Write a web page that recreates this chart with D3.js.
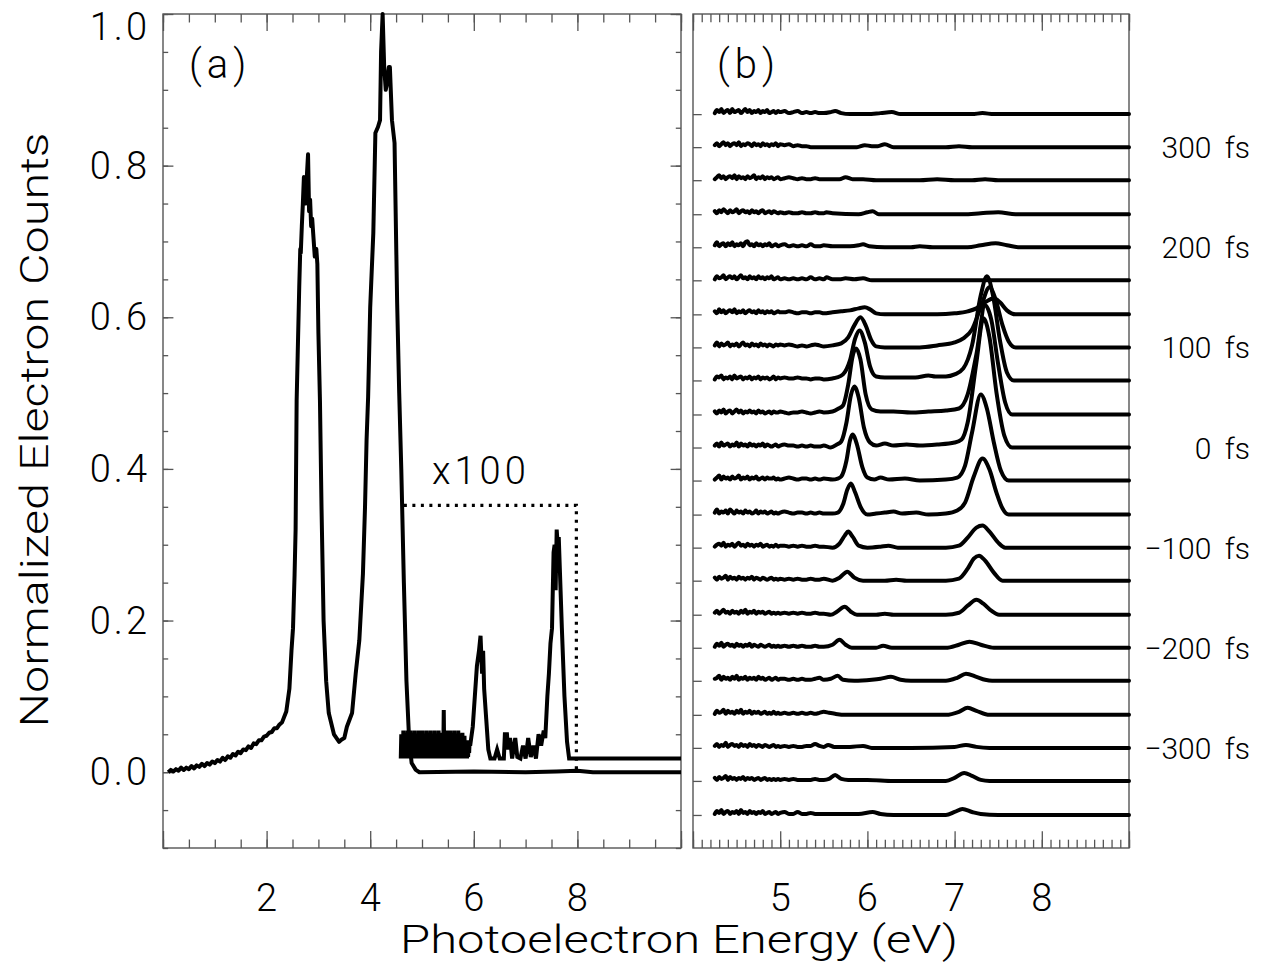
<!DOCTYPE html>
<html><head><meta charset="utf-8">
<script src="https://cdn.jsdelivr.net/npm/d3@7"></script>
<style>
body{margin:0;background:#fff}
text{font-family:Roboto,'DejaVu Sans',sans-serif;font-weight:300;fill:#000}
</style>
</head><body><svg id="c" width="1282" height="971"></svg>
<script>
// ---------------- Panel (a) data ----------------
const xDomainA = [0, 10];
const yDomainA = [-0.1, 1.0];
const xMajorA = [0, 2, 4, 6, 8, 10];
const xLabelA = [2, 4, 6, 8];
const yMajorA = [0, 0.2, 0.4, 0.6, 0.8, 1.0];
const yLabelA = ["0.0", "0.2", "0.4", "0.6", "0.8", "1.0"];

// full spectrum [energy eV, normalized counts]
const spectrum = [[0.1,0.0],[0.15,0.003],[0.2,0.001],[0.25,0.004],[0.3,0.002],[0.35,0.006],[0.4,0.003],[0.45,0.006],[0.5,0.004],[0.55,0.008],[0.6,0.005],[0.65,0.009],[0.7,0.007],[0.75,0.011],[0.8,0.008],[0.85,0.012],[0.9,0.010],[0.95,0.014],[1.0,0.012],[1.05,0.016],[1.1,0.014],[1.15,0.019],[1.2,0.016],[1.25,0.021],[1.3,0.019],[1.35,0.024],[1.4,0.022],[1.45,0.027],[1.5,0.025],[1.55,0.030],[1.6,0.029],[1.65,0.034],[1.7,0.032],[1.75,0.038],[1.8,0.037],[1.85,0.042],[1.9,0.042],[1.95,0.047],[2.0,0.048],[2.05,0.052],[2.1,0.053],[2.15,0.058],[2.2,0.058],[2.25,0.063],[2.3,0.066],[2.38,0.08],[2.44,0.11],[2.48,0.16],[2.51,0.19],[2.54,0.26],[2.56,0.32],[2.58,0.49],[2.6,0.55],[2.63,0.64],[2.65,0.69],[2.66,0.685],[2.68,0.72],[2.7,0.75],[2.72,0.785],[2.74,0.78],[2.76,0.75],[2.78,0.79],[2.8,0.815],[2.82,0.74],[2.84,0.755],[2.86,0.72],[2.88,0.73],[2.9,0.71],[2.93,0.68],[2.96,0.69],[2.98,0.67],[3.0,0.58],[3.03,0.49],[3.06,0.35],[3.1,0.2],[3.15,0.12],[3.2,0.078],[3.3,0.05],[3.4,0.04],[3.45,0.043],[3.5,0.045],[3.55,0.06],[3.65,0.078],[3.72,0.13],[3.79,0.174],[3.86,0.262],[3.9,0.35],[3.93,0.438],[3.96,0.495],[4.0,0.613],[4.06,0.711],[4.1,0.843],[4.15,0.851],[4.19,0.86],[4.21,0.95],[4.24,1.0],[4.27,0.93],[4.3,0.9],[4.33,0.91],[4.36,0.93],[4.38,0.93],[4.42,0.86],[4.47,0.83],[4.52,0.62],[4.56,0.5],[4.6,0.4],[4.65,0.25],[4.7,0.12],[4.75,0.045],[4.8,0.012],[4.88,0.003],[4.95,0.0],[6.0,0.001],[7.0,0.0],[7.6,0.001],[8.0,0.002],[8.3,0.0],[10,0.0]];

// x100 magnified part: dense noisy block sampled every 0.01 eV from 4.59 eV (values in 1e-3 units)
const magNoiseStart = 4.59;
const magNoise = [18,50,18,45,20,55,18,40,22,52,18,48,20,55,18,42,25,50,18,55,20,45,18,52,18,40,22,55,18,48,20,50,18,45,18,55,20,42,18,50,22,55,18,45,20,50,18,40,18,55,20,48,18,52,22,45,18,55,20,40,18,50,18,45,20,55,18,48,22,50,18,42,20,55,18,50,18,45,22,52,18,45,20,82,18,50,20,45,18,55,20,42,18,50,22,55,18,45,18,52,20,40,18,55,20,48,18,45,22,50,18,55,20,42,18,50,18,45,20,52,18,40,22,48,18,35,20,42,18,35,20,38,25,42,35];
const magnified = [[5.95,0.045],[5.98,0.06],[6.02,0.1],[6.06,0.14],[6.1,0.16],[6.13,0.18],[6.16,0.13],[6.18,0.16],[6.2,0.11],[6.24,0.07],[6.28,0.03],[6.32,0.018],[6.4,0.018],[6.45,0.03],[6.5,0.018],[6.58,0.018],[6.6,0.05],[6.64,0.05],[6.66,0.03],[6.7,0.045],[6.74,0.018],[6.8,0.045],[6.84,0.02],[6.9,0.018],[6.95,0.035],[7.0,0.018],[7.05,0.045],[7.1,0.02],[7.15,0.035],[7.2,0.018],[7.25,0.05],[7.3,0.035],[7.35,0.055],[7.38,0.045],[7.42,0.1],[7.45,0.13],[7.48,0.17],[7.51,0.19],[7.54,0.29],[7.56,0.3],[7.58,0.24],[7.6,0.32],[7.62,0.3],[7.64,0.31],[7.66,0.27],[7.7,0.19],[7.75,0.1],[7.8,0.04],[7.84,0.018],[10,0.018]];

const magnifyBox = [[4.65,0.352],[7.98,0.352],[7.98,0.0]];

// ---------------- Panel (b) data ----------------
const xDomainB = [4, 9];
const xMajorB = [4, 5, 6, 7, 8, 9];
const xLabelB = [5, 6, 7, 8];
const delayDomain = [-400, 433];
const delays = [333,300,267,233,200,167,133,100,67,33,0,-33,-67,-100,-133,-167,-200,-233,-267,-300,-333,-367];
const delayLabels = [300, 200, 100, 0, -100, -200, -300];

// low-energy noisy region: 4.25-5.00 eV every 0.025, then 5.05-5.50 every 0.05
const noiseE = d3.range(31).map(k => +(4.25 + 0.025 * k).toFixed(3))
  .concat(d3.range(10).map(k => +(5.05 + 0.05 * k).toFixed(2)));
const noise = [
[1,4,2,5,1,3,4,1,5,2,3,4,1,3,5,2,4,1,3,2,4,1,3,2,4,1,2,3,1,3,2,3,1,2,3,1,2,1,2,1,1],
[2,4,1,3,5,2,4,1,3,4,2,5,1,3,2,4,3,1,4,2,3,1,4,2,3,1,3,2,4,1,3,2,3,1,2,1,1,0,0,0,0],
[1,3,5,2,4,1,3,4,2,5,1,4,2,3,1,4,2,3,5,1,3,2,4,1,3,2,3,1,2,3,1,2,3,2,1,2,1,1,2,1,1],
[3,1,4,2,5,3,1,4,2,3,5,1,3,4,2,3,1,4,2,3,1,3,4,1,2,3,1,3,2,1,2,1,2,1,1,2,1,1,2,1,1],
[2,5,1,3,4,1,4,2,5,1,3,2,4,1,5,6,2,3,1,4,2,3,1,3,2,4,1,2,3,1,2,3,1,2,1,2,1,3,1,1,2],
[1,4,2,3,5,1,3,4,2,4,1,3,5,2,3,1,4,2,3,1,4,2,3,1,3,2,4,1,2,3,1,2,1,2,1,2,1,3,1,2,1],
[3,1,5,2,4,1,3,4,2,5,1,3,2,4,1,3,4,2,3,1,4,2,3,1,3,2,3,1,2,3,2,2,3,2,1,2,2,1,2,2,1],
[2,5,1,4,2,3,5,1,3,2,4,1,3,5,2,3,1,4,2,3,1,4,2,3,1,3,2,1,3,2,3,2,3,2,1,2,1,2,3,2,1],
[1,4,3,5,1,3,2,4,1,5,2,3,4,1,3,2,4,1,3,2,4,1,3,2,3,1,2,4,1,3,2,3,2,2,3,2,2,1,2,2,1],
[3,1,4,2,5,1,3,4,1,3,5,2,4,1,3,2,4,2,3,1,4,2,3,1,2,3,1,3,2,2,3,2,1,2,2,3,2,1,2,3,2],
[2,4,1,5,2,3,4,1,3,2,5,1,4,2,3,1,4,2,3,1,3,2,4,1,3,2,1,2,3,1,2,3,2,2,1,2,1,2,1,1,2],
[1,3,5,1,4,2,3,1,4,2,3,5,1,3,2,4,1,3,2,4,1,2,3,1,3,2,2,3,1,2,1,2,3,2,1,2,2,1,2,1,2],
[2,5,1,3,2,4,1,5,3,1,4,2,3,1,4,2,3,1,2,4,1,3,2,3,1,2,3,1,2,1,2,3,2,1,2,2,1,2,1,2,1],
[1,3,4,2,5,1,3,2,4,1,3,5,2,3,1,4,2,3,1,3,2,4,1,2,3,1,2,1,3,1,2,2,1,2,1,2,1,1,2,1,1],
[3,1,4,2,3,5,1,4,2,3,1,4,2,3,1,3,2,4,1,3,2,1,3,2,1,2,3,1,2,1,2,1,2,1,2,1,1,2,1,1,2],
[2,4,1,3,5,2,3,1,4,2,3,1,4,2,5,1,3,2,4,1,3,2,3,1,2,3,1,2,1,2,1,2,1,2,1,2,1,1,2,1,1],
[1,4,2,5,1,3,4,2,3,1,4,2,3,1,3,2,4,1,3,2,1,3,2,1,2,3,1,2,1,2,1,2,1,2,1,2,1,1,2,1,1],
[2,3,5,1,4,2,3,1,4,2,5,1,3,2,4,1,3,2,3,1,4,2,3,1,2,3,1,2,3,1,2,2,1,2,1,2,1,1,2,3,1],
[1,4,2,3,5,1,4,2,3,1,4,2,5,1,3,2,4,1,3,2,3,1,2,3,1,2,1,3,1,2,1,2,1,2,1,2,1,2,1,2,3],
[2,4,1,3,2,5,1,3,4,2,3,1,4,2,3,1,4,2,3,1,3,2,1,3,2,1,2,3,1,2,1,2,1,2,1,1,2,2,4,2,1],
[3,1,4,2,3,5,1,4,2,3,1,3,2,4,1,3,2,3,1,2,3,1,2,3,1,2,1,2,1,2,1,2,1,2,1,1,1,1,2,1,1],
[1,4,2,5,1,3,4,1,3,2,4,1,5,2,3,1,4,2,3,1,3,2,4,1,2,3,1,2,3,1,2,3,1,1,3,1,1,2,1,1,1]
];
// features above 5.5 eV: [energy eV, counts (arb.)]
const features = [
[[5.58,2],[5.63,3],[5.7,1],[5.8,0],[6.0,0],[6.15,1],[6.28,2],[6.38,0],[7.2,0],[7.32,1],[7.45,0],[9,0]],
[[5.7,0],[5.88,0],[5.97,2],[6.05,1],[6.12,1],[6.2,3],[6.3,0],[6.9,0],[7.05,1],[7.2,0],[9,0]],
[[5.6,1],[5.68,1],[5.75,3],[5.83,1],[5.95,1],[6.1,0],[6.6,0],[6.8,1],[7.0,0],[7.2,0],[7.35,1],[7.5,0],[9,0]],
[[5.53,2],[5.6,1],[5.9,0],[6.0,2],[6.06,3],[6.13,0],[7.1,0],[7.3,1],[7.5,2],[7.7,0],[9,0]],
[[5.6,1],[5.8,1],[5.9,2],[5.95,3],[6.02,1],[6.2,0],[6.5,0],[6.6,1],[6.75,0],[7.15,0],[7.3,2],[7.47,4],[7.6,2],[7.75,0],[9,0]],
[[5.53,3],[5.6,1],[5.68,1],[5.75,2],[5.85,1],[5.95,2],[6.05,0],[9,0]],
[[5.6,2],[5.7,3],[5.8,4],[5.9,6],[5.97,7],[6.03,5],[6.1,1],[6.2,0],[6.8,0],[7.0,1],[7.15,3],[7.25,6],[7.35,12],[7.45,16],[7.52,12],[7.6,4],[7.7,0],[9,0]],
[[5.6,2],[5.7,4],[5.78,10],[5.85,22],[5.92,30],[5.98,22],[6.04,8],[6.1,1],[6.2,0],[6.6,0],[6.8,2],[7.0,5],[7.1,9],[7.2,18],[7.3,40],[7.4,60],[7.47,48],[7.55,22],[7.62,6],[7.7,0],[9,0]],
[[5.6,2],[5.65,3],[5.72,6],[5.8,20],[5.86,42],[5.91,50],[5.97,38],[6.03,14],[6.1,4],[6.2,3],[6.4,3],[6.55,3],[6.7,5],[6.78,4],[6.9,4],[7.0,6],[7.1,12],[7.2,35],[7.3,85],[7.37,104],[7.44,85],[7.52,40],[7.6,8],[7.68,0],[9,0]],
[[5.6,3],[5.67,6],[5.72,9],[5.78,30],[5.83,58],[5.87,66],[5.92,55],[5.98,20],[6.05,5],[6.15,3],[6.3,3],[6.5,2],[6.7,3],[6.9,4],[7.05,6],[7.15,20],[7.25,60],[7.35,109],[7.42,95],[7.5,50],[7.58,12],[7.66,0],[9,0]],
[[5.58,0],[5.65,3],[5.7,6],[5.76,25],[5.81,52],[5.85,61],[5.9,50],[5.96,20],[6.03,5],[6.1,2],[6.2,4],[6.3,2],[6.45,3],[6.6,2],[6.8,3],[7.0,5],[7.08,8],[7.15,25],[7.25,85],[7.33,129],[7.4,110],[7.48,55],[7.57,12],[7.66,0],[9,0]],
[[5.6,1],[5.66,2],[5.7,4],[5.76,20],[5.8,40],[5.83,46],[5.88,36],[5.94,14],[6.0,3],[6.08,1],[6.15,3],[6.25,1],[6.43,2],[6.6,0],[6.9,1],[7.03,3],[7.12,15],[7.2,48],[7.3,86],[7.37,72],[7.45,38],[7.53,10],[7.62,0],[9,0]],
[[5.6,1],[5.66,2],[5.72,10],[5.77,25],[5.81,31],[5.86,22],[5.92,8],[6.0,0],[6.1,1],[6.2,2],[6.3,3],[6.4,1],[6.56,2],[6.7,0],[6.9,1],[7.03,4],[7.12,12],[7.22,38],[7.32,56],[7.4,45],[7.48,22],[7.55,6],[7.62,0],[9,0]],
[[5.6,0],[5.68,4],[5.74,12],[5.78,16],[5.83,11],[5.9,2],[6.0,0],[6.15,1],[6.24,2],[6.35,0],[6.9,0],[7.05,2],[7.15,10],[7.25,20],[7.32,22],[7.4,16],[7.5,5],[7.58,0],[9,0]],
[[5.6,0],[5.68,3],[5.77,9],[5.85,3],[5.95,0],[6.2,0],[6.33,1],[6.45,0],[6.9,0],[7.05,2],[7.15,12],[7.22,22],[7.28,25],[7.35,20],[7.45,8],[7.55,0],[9,0]],
[[5.58,0],[5.65,3],[5.74,8],[5.81,3],[5.88,0],[6.1,0],[6.2,1],[6.3,0],[6.9,0],[7.05,2],[7.15,9],[7.25,15],[7.33,11],[7.42,4],[7.51,0],[9,0]],
[[5.6,3],[5.68,8],[5.75,3],[5.82,0],[6.1,0],[6.18,2],[6.28,0],[6.9,0],[7.05,3],[7.17,6],[7.3,3],[7.45,0],[9,0]],
[[5.58,2],[5.66,5],[5.72,1],[5.85,0],[6.05,1],[6.15,2],[6.27,4],[6.38,1],[6.5,0],[6.9,0],[7.03,3],[7.13,7],[7.25,4],[7.35,1],[7.43,0],[9,0]],
[[5.56,2],[5.63,1],[5.75,0],[6.3,0],[6.9,0],[7.05,3],[7.15,7],[7.25,4],[7.4,0],[9,0]],
[[5.55,3],[5.62,1],[5.8,1],[5.95,2],[6.05,0],[6.3,0],[6.5,0],[7.0,1],[7.13,3],[7.25,1],[7.4,0],[9,0]],
[[5.56,2],[5.63,6],[5.7,2],[5.78,1],[6.0,1],[6.3,0],[6.9,0],[7.0,3],[7.11,8],[7.2,5],[7.3,1],[7.4,0],[9,0]],
[[5.7,1],[5.9,1],[6.06,3],[6.15,1],[6.3,0],[6.9,0],[7.0,3],[7.09,6],[7.2,3],[7.3,1],[7.5,0],[9,0]]
];
const GAIN = 1.0; // fs of vertical offset per count unit

// ---------------- drawing ----------------
const svg = d3.select('#c');
svg.append('rect').attr('width',1282).attr('height',971).attr('fill','#fff');
const PA = {l:163, r:681, t:14, b:848};
const PB = {l:693, r:1129, t:14, b:848};
const xa = d3.scaleLinear().domain(xDomainA).range([PA.l, PA.r]);
const ya = d3.scaleLinear().domain(yDomainA).range([PA.b, PA.t]);
const xb = d3.scaleLinear().domain(xDomainB).range([PB.l, PB.r]);
const yb = d3.scaleLinear().domain(delayDomain).range([PB.b, PB.t]);
const AXC = '#555';

function styleAxis(g){ g.select('.domain').remove(); g.selectAll('line').attr('stroke',AXC).attr('stroke-width',1.3); g.selectAll('text').remove(); }
function ticks(axisFn, scale, vals, size, tr){
  svg.append('g').attr('transform',tr).call(axisFn(scale).tickValues(vals).tickSize(size).tickSizeOuter(0)).call(styleAxis);
}
function rng(a,b,s){ const n=Math.round((b-a)/s); return d3.range(n+1).map(k=>+(a+k*s).toFixed(4)); }

// Panel a axes
const xMinorA = rng(0,10,0.5), yMinorA = rng(-0.1,1.0,0.05);
ticks(d3.axisTop, xa, xMinorA, 8.5, `translate(0,${PA.b})`);
ticks(d3.axisTop, xa, xMajorA, 17, `translate(0,${PA.b})`);
ticks(d3.axisBottom, xa, xMinorA, 8.5, `translate(0,${PA.t})`);
ticks(d3.axisBottom, xa, xMajorA, 17, `translate(0,${PA.t})`);
ticks(d3.axisRight, ya, yMinorA, 5.2, `translate(${PA.l},0)`);
ticks(d3.axisRight, ya, yMajorA, 10.4, `translate(${PA.l},0)`);
ticks(d3.axisLeft, ya, yMinorA, 5.2, `translate(${PA.r},0)`);
ticks(d3.axisLeft, ya, yMajorA, 10.4, `translate(${PA.r},0)`);
// Panel b axes
const xMinorB = rng(4,9,0.1);
ticks(d3.axisTop, xb, xMinorB, 8.3, `translate(0,${PB.b})`);
ticks(d3.axisTop, xb, xMajorB, 16.7, `translate(0,${PB.b})`);
ticks(d3.axisBottom, xb, xMinorB, 8.3, `translate(0,${PB.t})`);
ticks(d3.axisBottom, xb, xMajorB, 16.7, `translate(0,${PB.t})`);
ticks(d3.axisRight, yb, delays, 8.7, `translate(${PB.l},0)`);

// frames
[PA,PB].forEach(p=>svg.append('rect').attr('x',p.l).attr('y',p.t).attr('width',p.r-p.l).attr('height',p.b-p.t)
  .attr('fill','none').attr('stroke',AXC).attr('stroke-width',1.4));

// tick labels
const FS = 38;
svg.selectAll('.ylA').data(yMajorA).enter().append('text')
  .attr('x', PA.l-13).attr('y', (d)=>Math.max(ya(d)+13, 40))
  .attr('text-anchor','end').attr('font-size',FS).attr('letter-spacing',3).text((d,i)=>yLabelA[i]);
svg.selectAll('.xlA').data(xLabelA).enter().append('text')
  .attr('x', d=>xa(d)).attr('y', 911).attr('text-anchor','middle').attr('font-size',FS).text(d=>d);
svg.selectAll('.xlB').data(xLabelB).enter().append('text')
  .attr('x', d=>xb(d)).attr('y', 911).attr('text-anchor','middle').attr('font-size',FS).text(d=>d);

// axis titles
svg.append('text').attr('x',679).attr('y',953).attr('text-anchor','middle').attr('font-size',FS)
  .attr('textLength',558).attr('lengthAdjust','spacingAndGlyphs').text('Photoelectron Energy (eV)');
svg.append('text').attr('transform','translate(48,430) rotate(-90)').attr('text-anchor','middle').attr('font-size',FS)
  .attr('textLength',595).attr('lengthAdjust','spacingAndGlyphs').text('Normalized Electron Counts');

// panel labels
svg.append('text').attr('x',189).attr('y',78).attr('font-size',40).attr('letter-spacing',5).text('(a)');
svg.append('text').attr('x',717).attr('y',78).attr('font-size',40).attr('letter-spacing',5).text('(b)');
svg.append('text').attr('x',432).attr('y',484).attr('font-size',FS).attr('letter-spacing',4).text('x100');

// panel a curves
const lineA = d3.line().x(d=>xa(d[0])).y(d=>ya(d[1]));
svg.append('path').datum(spectrum).attr('d',lineA).attr('fill','none').attr('stroke','#000').attr('stroke-width',4).attr('stroke-linejoin','round');
const magAll = magNoise.map((v,k)=>[magNoiseStart + 0.01*k, v/1000]).concat(magnified);
svg.append('path').datum(magAll).attr('d',lineA).attr('fill','none').attr('stroke','#000').attr('stroke-width',4).attr('stroke-linejoin','miter');
svg.append('path').datum(magnifyBox).attr('d',lineA).attr('fill','none').attr('stroke','#000').attr('stroke-width',3.2).attr('stroke-dasharray','3,5.5');

// panel b traces
const lineB = (i)=>d3.line().x(d=>xb(d[0])).y(d=>yb(delays[i] + d[1]*GAIN)).curve(d3.curveMonotoneX);
delays.forEach((dl,i)=>{
  const pts = noiseE.map((e,k)=>[e, noise[i][k]]).concat(features[i]);
  svg.append('path').datum(pts).attr('d', lineB(i)).attr('fill','none').attr('stroke','#000')
    .attr('stroke-width',4).attr('stroke-linejoin','round').attr('stroke-linecap','round');
});

// delay labels
svg.selectAll('.dl').data(delayLabels).enter().append('text')
  .attr('x',1250).attr('y',d=>yb(d)+11).attr('text-anchor','end').attr('font-size',30)
  .text(d=>(d<0?'\u2212':'')+Math.abs(d)+'\u00a0\u2009fs');
</script></body></html>
